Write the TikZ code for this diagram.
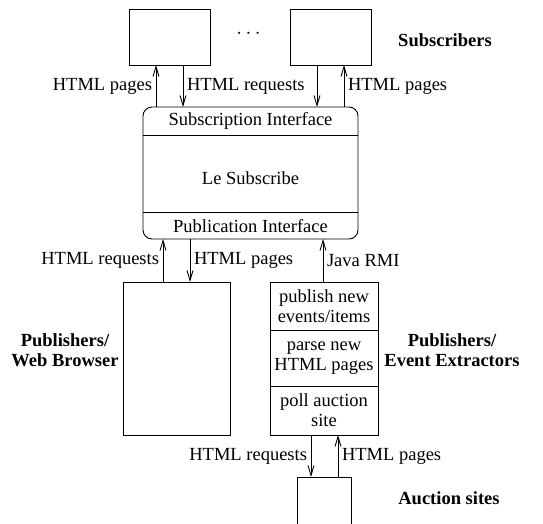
\documentclass[tikz,border=0pt]{standalone}
\usepackage{fontspec}
\setmainfont{Liberation Serif}
\usetikzlibrary{arrows.meta}

\newcommand{\txtsize}{\fontsize{18.5}{20}\selectfont}

\tikzset{
  box/.style={draw, line width=0.9pt, inner sep=0pt, outer sep=0pt},
  lbl/.style={inner sep=0pt, outer sep=4pt},
  flow/.style={line width=0.9pt, -{Straight Barb[length=10pt,width=6pt]}},
  role/.style={font=\txtsize\bfseries, align=center}
}

\begin{document}
\begin{tikzpicture}[x=1pt, y=-1pt, font=\txtsize]
\useasboundingbox (0,0) rectangle (543,524);

% subscribers
\node[box, minimum width=81pt, minimum height=56pt] (sub1) at (169.5,37) {};
\node[box, minimum width=81pt, minimum height=56pt] (sub2) at (330.5,37) {};
\node[anchor=base, font=\fontsize{21}{21}\selectfont] (dots) at (248.5,39) {$\cdots$};
\node[role] (subs) at (445,40) {Subscribers};

% Le Subscribe
\node[box, rounded corners=9pt, minimum width=215pt, minimum height=132pt] (core) at (250.5,173) {};
\draw[line width=0.9pt] (core.west |- 0,135) -- (core.east |- 0,135);
\draw[line width=0.9pt] (core.west |- 0,212) -- (core.east |- 0,212);
\node (subif) at (250.5,121) {Subscription Interface};
\node (ls) at (250.5,178) {Le Subscribe};
\node (pubif) at (250.5,226) {Publication Interface};

\draw[flow] (156,0 |- core.north) -- node[lbl, left] (t1) {HTML pages} (156,0 |- sub1.south);
\draw[flow] (183,0 |- sub1.south) -- node[lbl, right] (t2) {HTML requests} (183,0 |- core.north);
\draw[flow] (317,0 |- sub2.south) -- (317,0 |- core.north);
\draw[flow] (344,0 |- core.north) -- node[lbl, right] (t3) {HTML pages} (344,0 |- sub2.south);

% publishers
\node[box, minimum width=107pt, minimum height=153pt] (web) at (176.5,358.5) {};
\node[role] (webl) at (65,350) {Publishers/\\Web Browser};

\node[box, minimum width=108pt, minimum height=48pt, align=center] (pub) at (324,306) {publish new\\events/items};
\node[box, minimum width=108pt, minimum height=56pt, align=center, anchor=north] (parse) at (pub.south) {parse new\\HTML pages};
\node[box, minimum width=108pt, minimum height=49pt, align=center, anchor=north] (poll) at (parse.south) {poll auction\\site};
\node[role] (extl) at (452,350) {Publishers/\\Event Extractors};

\draw[flow] (163,0 |- web.north) -- node[lbl, left] (t4) {HTML requests} (163,0 |- core.south);
\draw[flow] (190,0 |- core.south) -- node[lbl, right] (t5) {HTML pages} (190,0 |- web.north);
\draw[flow] (323,0 |- pub.north) -- node[lbl, right] (t6) {Java RMI} (323,0 |- core.south);

% auction sites
\node[box, minimum width=54pt, minimum height=70pt, anchor=north] (site) at (324,477) {};
\node[role] (sitel) at (449,498) {Auction sites};

\draw[flow] (311,0 |- poll.south) -- node[lbl, left] (t7) {HTML requests} (311,0 |- site.north);
\draw[flow] (338,0 |- site.north) -- node[lbl, right] (t8) {HTML pages} (338,0 |- poll.south);
\end{tikzpicture}
\end{document}
